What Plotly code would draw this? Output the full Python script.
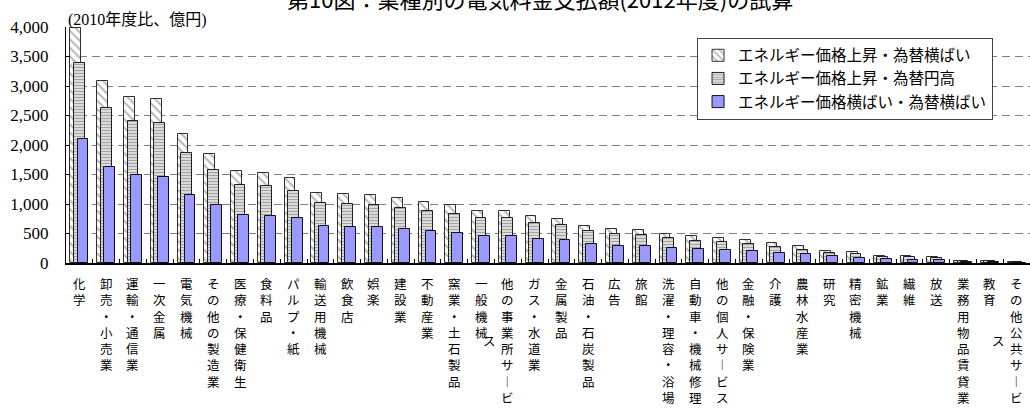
import plotly.graph_objects as go

# 業種（支払額の大きい順）
categories = [
    "化学", "卸売・小売業", "運輸・通信業", "一次金属", "電気機械", "その他の製造業",
    "医療・保健衛生", "食料品", "パルプ・紙", "輸送用機械", "飲食店", "娯楽",
    "建設業", "不動産業", "窯業・土石製品", "一般機械", "他の事業所サービス", "ガス・水道業",
    "金属製品", "石油・石炭製品", "広告", "旅館", "洗濯・理容・浴場", "自動車・機械修理",
    "他の個人サービス", "金融・保険業", "介護", "農林水産業", "研究", "精密機械",
    "鉱業", "繊維", "放送", "業務用物品賃貸業", "教育", "その他公共サービス",
]

# 億円（2010年度比）
rise_flat = [
    3990, 3080, 2810, 2780, 2180, 1855, 1555, 1530, 1435, 1195, 1165, 1160,
    1105, 1030, 980, 885, 880, 795, 750, 635, 570, 555, 495, 455,
    430, 385, 340, 285, 205, 180, 125, 115, 110, 40, 35, 15,
]
rise_strong_yen = [
    3390, 2625, 2400, 2370, 1860, 1575, 1325, 1300, 1225, 1020, 995, 990,
    940, 875, 830, 755, 755, 680, 640, 550, 485, 480, 420, 375,
    357, 318, 272, 228, 177, 160, 100, 95, 90, 32, 28, 12,
]
flat_flat = [
    2100, 1620, 1485, 1465, 1150, 975, 815, 805, 755, 630, 612, 612,
    578, 545, 510, 466, 466, 415, 398, 330, 296, 290, 262, 233,
    216, 199, 177, 148, 114, 92, 63, 57, 55, 20, 17, 7,
]

series_names = [
    "エネルギー価格上昇・為替横ばい",
    "エネルギー価格上昇・為替円高",
    "エネルギー価格横ばい・為替横ばい",
]
y_ticks = [0, 500, 1000, 1500, 2000, 2500, 3000, 3500, 4000]

title_text = "第10図：業種別の電気料金支払額(2012年度)の試算"
unit_text = "(2010年度比、億円)"

GOTHIC = "Noto Sans CJK JP, Noto Sans, sans-serif"
SERIF = "Liberation Serif, Noto Sans CJK JP, serif"

BAR_W = 0.4
fig = go.Figure()

fig.add_bar(
    x=categories, y=rise_flat, name=series_names[0], width=BAR_W, offset=-0.333,
    marker=dict(
        color="white", line=dict(color="#303030", width=1),
        pattern=dict(shape="\\", fgcolor="#707070", bgcolor="white", size=6, solidity=0.35),
    ),
)
fig.add_bar(
    x=categories, y=rise_strong_yen, name=series_names[1], width=BAR_W, offset=-0.2,
    marker=dict(
        color="white", line=dict(color="#202020", width=1),
        pattern=dict(shape="-", fgcolor="#484848", bgcolor="white", size=3, solidity=0.6),
    ),
)
fig.add_bar(
    x=categories, y=flat_flat, name=series_names[2], width=BAR_W, offset=-0.067,
    marker=dict(color="#9999FF", line=dict(color="#111111", width=1)),
)

# 縦書きの項目ラベル（8文字で折り返し、折り返し分は左の列に中央揃え）
VERTICAL_FORMS = {"ー": "︱"}
LABEL_SIZE = 12.5
LINE_H = LABEL_SIZE * 1.3
MAX_CHARS = 8
label_font = dict(family=GOTHIC, size=LABEL_SIZE, color="black")
for name in categories:
    chars = [VERTICAL_FORMS.get(c, c) for c in name]
    main, rest = chars[:MAX_CHARS], chars[MAX_CHARS:]
    fig.add_annotation(
        x=name, xref="x", y=0, yref="paper", yanchor="top", yshift=-9,
        text="<br>".join(main), showarrow=False, font=label_font, align="center",
    )
    if rest:
        fig.add_annotation(
            x=name, xref="x", y=0, yref="paper", yanchor="top",
            xshift=-18, yshift=-9 - (len(main) - len(rest)) / 2 * LINE_H,
            text="<br>".join(rest), showarrow=False, font=label_font, align="center",
        )

# 図のタイトル（上端）と単位
fig.add_annotation(
    x=0.4917, xref="paper", y=1, yref="paper", xanchor="center", yanchor="middle",
    yshift=29, text=title_text, showarrow=False,
    font=dict(family=GOTHIC, size=22, color="black"),
)
fig.add_annotation(
    x=0, xref="paper", y=1, yref="paper", xanchor="left", yanchor="middle",
    xshift=0, yshift=7, text=unit_text, showarrow=False,
    font=dict(family=SERIF, size=16, color="black"),
)

fig.update_layout(
    width=1030, height=410,
    margin=dict(l=66, r=0, t=27, b=147),
    paper_bgcolor="white", plot_bgcolor="white",
    barmode="overlay", bargap=0,
    showlegend=True,
    legend=dict(
        x=0.6546, y=0.9546, xanchor="left", yanchor="top",
        bgcolor="white", bordercolor="#404040", borderwidth=1,
        font=dict(family=GOTHIC, size=15.5, color="black"),
        traceorder="normal",
    ),
)
fig.update_xaxes(
    type="category", range=[-0.5, len(categories) - 0.5],
    showticklabels=False, ticks="inside", tickson="boundaries", ticklen=4,
    tickcolor="black", showline=True, linecolor="black", linewidth=1.5,
    showgrid=False, zeroline=False,
)
fig.update_yaxes(
    range=[0, 4000], tickvals=y_ticks, tickformat=",d",
    ticks="inside", ticklen=4, tickcolor="black",
    showline=True, linecolor="black", linewidth=1,
    showgrid=True, gridcolor="#808080", gridwidth=1, griddash="8px,5px",
    zeroline=False, ticklabelstandoff=13,
    tickfont=dict(family=SERIF, size=17, color="black"),
)

fig.write_html("out.html")
